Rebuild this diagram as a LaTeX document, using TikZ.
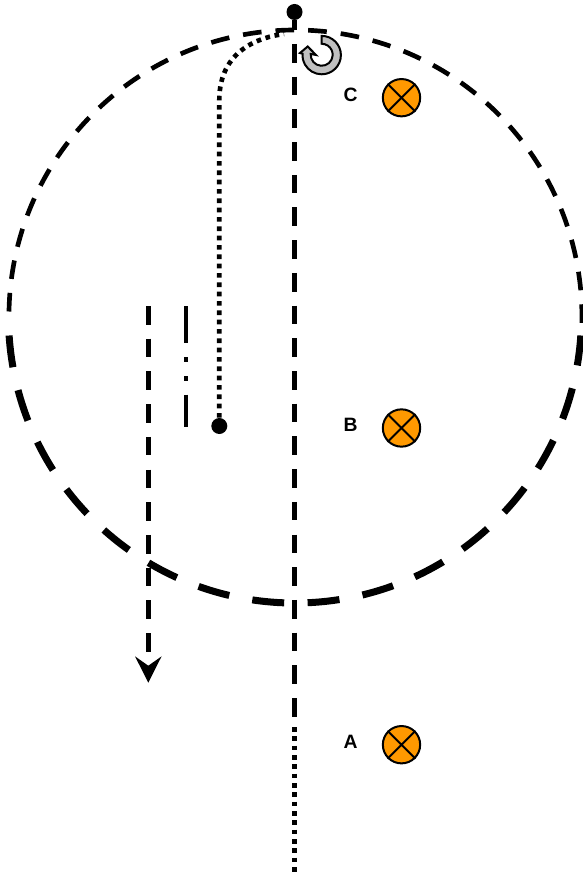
\documentclass[tikz,border=0pt]{standalone}
\usepackage{fontspec}
\setmainfont{Liberation Sans}
\usetikzlibrary{arrows.meta}
\definecolor{spotfill}{HTML}{FF9900}
\definecolor{turnfill}{HTML}{C0C0C0}
\tikzset{
  trackline/.style={line width=3.5pt, dash pattern=on 14pt off 10.525pt},
  wideline/.style={line width=5.25pt, dash pattern=on 24pt off 17.6pt},
  dotline/.style={line width=3.5pt, dash pattern=on 3.5pt off 3.5pt},
  splitline/.style={line width=3.5pt, dash pattern=on 28pt off 10.5pt on 3.5pt off 10.5pt on 3.5pt off 10.5pt},
  enddot/.style={circle, fill=black, draw=none, minimum size=12pt, inner sep=0pt},
  spot/.style={circle, draw=black, fill=spotfill, line width=1.5pt, minimum size=28pt, inner sep=0pt},
  mark label/.style={font=\fontsize{14.5pt}{16pt}\selectfont\bfseries, inner sep=0pt},
}
\begin{document}
\begin{tikzpicture}[x=0.75pt,y=-0.75pt]
\useasboundingbox (0,0) rectangle (582,873);
% outer ring, upper and lower part
\draw[trackline] (9,311.5) arc[start angle=-179, end angle=3.8, radius=286.5];
\draw[wideline] (9.1,335.5) arc[start angle=176.2, end angle=3.8, radius=286.5];
% centre line
\node[enddot] (top) at (294.5,12) {};
\coordinate (stem) at (294.5,30);
\coordinate (trackstart) at (294.5,44);
\coordinate (trackend) at (294.5,716.7);
\coordinate (dotstart) at (294.5,727);
\coordinate (dotend) at (294.5,873);
\draw[line width=3.5pt] (top) -- (stem);
\draw[trackline] (trackstart) -- (trackend);
\draw[dotline] (dotstart) -- (dotend);
% side lines
\coordinate (dropstart) at (148.3,306);
\coordinate (dropend) at (148.3,682.7);
\draw[trackline, -{Stealth[length=19.5pt, width=19.5pt, inset=6.75pt]}] (dropstart) -- (dropend);
\coordinate (splitstart) at (186,306);
\coordinate (splitend) at (186,426.7);
\draw[splitline] (splitstart) -- (splitend);
\node[enddot] (base) at (219.3,426) {};
\coordinate (baseend) at (284,34);
\draw[dotline] (base) -- (219.3,100) .. controls (219.3,50) and (260,37) .. (baseend);
% turn symbol
\filldraw[fill=turnfill, draw=black, line width=1.5pt]
  (321.7,35.9) arc[start angle=-90, end angle=184, radius=19.2]
  -- (300,53) -- (307.7,46.5) -- (316,55) -- (310.7,54)
  arc[start angle=184, end angle=-90, radius=11] -- cycle;
% marks
\foreach \nm/\lbl/\y/\ly in {a/A/744.7/742, b/B/428/425, c/C/97.7/94.7}{
  \node[spot] (s\nm) at (401.5,\y) {};
  \draw[line width=1.5pt] (s\nm.45) -- (s\nm.225) (s\nm.135) -- (s\nm.315);
  \node[mark label] (l\nm) at (350.7,\ly) {\lbl};
}
\end{tikzpicture}
\end{document}
